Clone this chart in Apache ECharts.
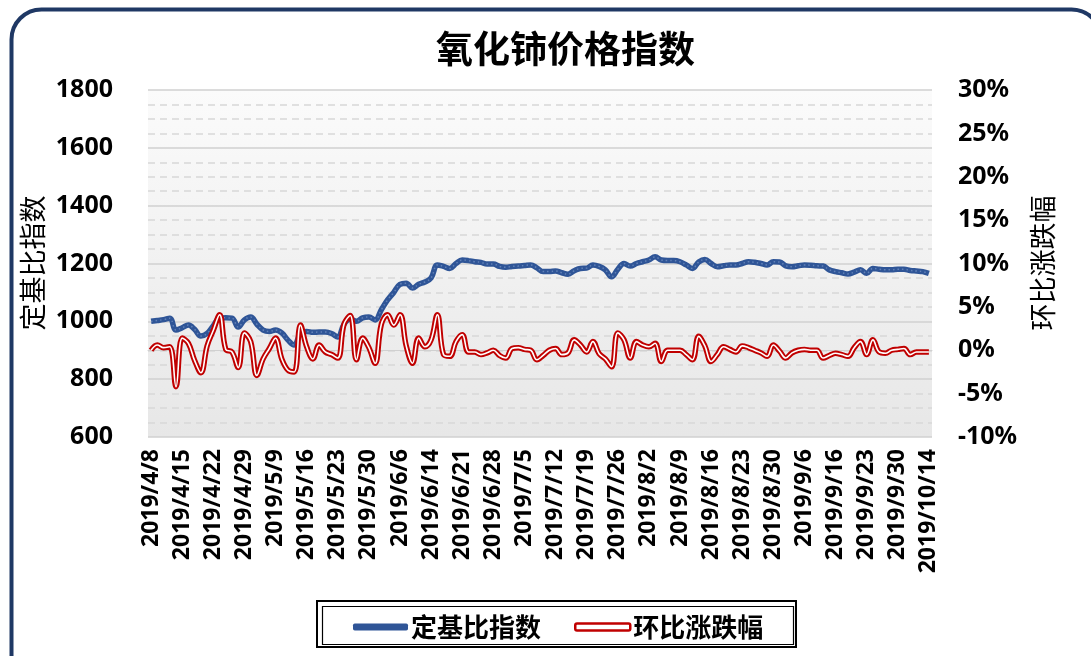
<!DOCTYPE html>
<html>
<head>
<meta charset="utf-8">
<script src="https://cdn.jsdelivr.net/npm/echarts@6/dist/echarts.min.js"></script>
<style>
html,body{margin:0;padding:0;background:#fff;}
#c{width:1091px;height:656px;}
</style>
</head>
<body>
<div id="c"></div>
<script>
const categories = [
'2019/4/8','2019/4/9','2019/4/10','2019/4/11','2019/4/12',
'2019/4/15','2019/4/16','2019/4/17','2019/4/18','2019/4/19',
'2019/4/22','2019/4/23','2019/4/24','2019/4/25','2019/4/26',
'2019/4/29','2019/4/30','2019/5/6','2019/5/7','2019/5/8',
'2019/5/9','2019/5/10','2019/5/13','2019/5/14','2019/5/15',
'2019/5/16','2019/5/17','2019/5/20','2019/5/21','2019/5/22',
'2019/5/23','2019/5/24','2019/5/27','2019/5/28','2019/5/29',
'2019/5/30','2019/5/31','2019/6/3','2019/6/4','2019/6/5',
'2019/6/6','2019/6/10','2019/6/11','2019/6/12','2019/6/13',
'2019/6/14','2019/6/17','2019/6/18','2019/6/19','2019/6/20',
'2019/6/21','2019/6/24','2019/6/25','2019/6/26','2019/6/27',
'2019/6/28','2019/7/1','2019/7/2','2019/7/3','2019/7/4',
'2019/7/5','2019/7/8','2019/7/9','2019/7/10','2019/7/11',
'2019/7/12','2019/7/15','2019/7/16','2019/7/17','2019/7/18',
'2019/7/19','2019/7/22','2019/7/23','2019/7/24','2019/7/25',
'2019/7/26','2019/7/29','2019/7/30','2019/7/31','2019/8/1',
'2019/8/2','2019/8/5','2019/8/6','2019/8/7','2019/8/8',
'2019/8/9','2019/8/12','2019/8/13','2019/8/14','2019/8/15',
'2019/8/16','2019/8/19','2019/8/20','2019/8/21','2019/8/22',
'2019/8/23','2019/8/26','2019/8/27','2019/8/28','2019/8/29',
'2019/8/30','2019/9/2','2019/9/3','2019/9/4','2019/9/5',
'2019/9/6','2019/9/9','2019/9/10','2019/9/11','2019/9/12',
'2019/9/16','2019/9/17','2019/9/18','2019/9/19','2019/9/20',
'2019/9/23','2019/9/24','2019/9/25','2019/9/26','2019/9/27',
'2019/9/30','2019/10/8','2019/10/9','2019/10/10','2019/10/11',
'2019/10/14'
];

const indexValues = [
1000,1003,1006,1011,970, 978,987,972,949,958,
985,1011,1012,1011,980, 1005,1015,990,970,965,
970,960,935,918,958, 965,962,963,963,958,
946,990,1008,1000,1012, 1015,1005,1040,1074,1100,
1128,1132,1115,1128,1136, 1150,1195,1190,1183,1200,
1212,1210,1206,1204,1198, 1198,1190,1187,1190,1191,
1193,1195,1185,1172,1172, 1174,1168,1163,1175,1183,
1184,1195,1190,1178,1154, 1180,1200,1191,1200,1206,
1212,1223,1212,1210,1210, 1206,1195,1183,1205,1214,
1200,1189,1192,1195,1195, 1200,1206,1204,1200,1195,
1206,1205,1192,1189,1192, 1195,1194,1192,1191,1178,
1172,1168,1164,1170,1178, 1166,1183,1180,1178,1178,
1180,1180,1176,1174,1172, 1166
];

const changeValues = [
0.0,0.6,0.3,0.4,-4.2, 1.4,0.8,-1.2,-2.6,0.5,
2.3,4.1,0.1,-0.2,-2.0, 2.0,1.0,-2.9,-1.0,0.2,
1.4,-1.0,-2.3,-2.5,2.9, 0.4,-1.0,0.6,-0.2,-0.5,
-0.9,3.0,4.0,-1.1,1.4, 0.3,-1.5,3.0,4.1,2.9,
4.1,0.5,-1.5,1.4,0.4, 1.2,4.1,-0.5,-0.7,1.0,
1.8,-0.2,-0.2,-0.5,-0.3, 0.0,-0.6,-0.9,0.2,0.3,
0.1,0.0,-1.1,-0.6,0.0, 0.2,-0.5,-0.3,1.2,0.6,
-0.2,1.0,-0.4,-1.0,-1.9, 2.0,1.2,-0.9,1.0,0.6,
0.4,0.8,-1.3,0.0,0.0, 0.0,-0.5,-1.1,1.6,0.5,
-1.3,-0.5,0.4,0.1,-0.2, 0.5,0.3,0.0,-0.3,-0.7,
0.6,-0.1,-0.9,-0.3,0.0, 0.1,0.0,0.0,-0.9,-0.6,
-0.35,-0.5,-0.7,0.3,1.0, -0.5,1.2,-0.2,-0.35,0.0,
0.1,0.2,-0.5,-0.2,-0.2, -0.2
];

const leftTicks = {min: 600, max: 1800, interval: 200};
const rightTicks = {min: -10, max: 30, interval: 5};

const NUM = "'Noto Sans', 'Noto Sans CJK SC', sans-serif";
const CJK = "'Noto Sans CJK SC', sans-serif";
const BLUE = '#2F5597';
const RED = '#C00000';

const chart = echarts.init(document.getElementById('c'), null, {renderer: 'canvas'});
chart.setOption({
  animation: false,
  backgroundColor: '#fff',
  title: {
    text: '氧化铈价格指数',
    left: 431, top: 25,
    textStyle: {fontFamily: CJK, fontSize: 37, fontWeight: 'bold', color: '#000'}
  },
  grid: {
    left: 148, right: 159, top: 90, bottom: 219,
    show: true, borderWidth: 0,
    backgroundColor: {
      type: 'linear', x: 0, y: 0, x2: 0, y2: 1,
      colorStops: [{offset: 0, color: '#fbfbfb'}, {offset: 1, color: '#e7e7e7'}]
    }
  },
  legend: {
    left: 348, top: 609,
    itemGap: 33, itemWidth: 55, itemHeight: 7,
    textStyle: {fontFamily: CJK, fontSize: 26, fontWeight: 'bold', color: '#000', padding: [0,0,0,-2]},
    data: [
      {name: '定基比指数', icon: 'roundRect', itemStyle: {color: BLUE}},
      {name: '环比涨跌幅', icon: 'roundRect', itemStyle: {color: '#fff', borderColor: RED, borderWidth: 2.5}}
    ]
  },
  xAxis: {
    type: 'category',
    data: categories,
    boundaryGap: true,
    axisLine: {show: true, lineStyle: {color: '#d0d0d0'}},
    axisTick: {show: false},
    axisLabel: {
      interval: 4, rotate: 90, margin: 12,
      fontFamily: NUM, fontSize: 23, fontWeight: 'bold', color: '#000'
    }
  },
  yAxis: [
    {
      type: 'value', min: leftTicks.min, max: leftTicks.max, interval: leftTicks.interval,
      axisLine: {show: false}, axisTick: {show: false},
      axisLabel: {margin: 35, formatter: function (v) { return String(v); }, fontFamily: NUM, fontSize: 25, fontWeight: 'bold', color: '#000'},
      splitLine: {show: true, lineStyle: {color: '#d0d0d0', width: 1.5}},
      minorTick: {show: false, splitNumber: 4},
      minorSplitLine: {show: true, lineStyle: {color: '#d8d8d8', width: 1.5, type: [7, 5]}}
    },
    {
      type: 'value', min: rightTicks.min, max: rightTicks.max, interval: rightTicks.interval,
      axisLine: {show: false}, axisTick: {show: false},
      splitLine: {show: false},
      axisLabel: {margin: 26, formatter: '{value}%', fontFamily: NUM, fontSize: 25, fontWeight: 'bold', color: '#000'}
    }
  ],
  graphic: [
    {type: 'rect', left: 9, top: 7, shape: {width: 1090, height: 680, r: 30}, style: {fill: 'none', stroke: '#1F3864', lineWidth: 4}, silent: true},
    {type: 'rect', left: 316, top: 600, shape: {width: 479, height: 46}, style: {fill: '#fff', stroke: '#000', lineWidth: 2}, z: 0},
    {type: 'rect', left: 320, top: 604, shape: {width: 471, height: 38}, style: {fill: 'none', stroke: '#000', lineWidth: 1.2}, z: 0},
    {type: 'text', x: 33, y: 263, rotation: Math.PI / 2, style: {text: '定基比指数', fontFamily: CJK, fontSize: 27, fill: '#000', textAlign: 'center', textVerticalAlign: 'middle'}},
    {type: 'text', x: 1043, y: 263, rotation: Math.PI / 2, style: {text: '环比涨跌幅', fontFamily: CJK, fontSize: 27, fill: '#000', textAlign: 'center', textVerticalAlign: 'middle'}}
  ],
  series: [
    {
      name: '定基比指数', type: 'line', yAxisIndex: 0, data: indexValues,
      smooth: 0.4, showSymbol: false, symbol: 'none',
      lineStyle: {color: BLUE, width: 5.5}, itemStyle: {color: BLUE}, z: 2
    },
    {
      name: '_dots', type: 'line', yAxisIndex: 0, data: indexValues,
      smooth: 0.4, showSymbol: false, symbol: 'none', silent: true,
      lineStyle: {color: 'rgba(160,185,225,0.45)', width: 1.5, type: [1.5, 3]}, z: 3
    },
    {
      name: '环比涨跌幅', type: 'line', yAxisIndex: 1, data: changeValues,
      smooth: 0.4, showSymbol: false, symbol: 'none',
      lineStyle: {color: RED, width: 5.5}, itemStyle: {color: RED}, z: 4
    },
    {
      name: '_inner', type: 'line', yAxisIndex: 1, data: changeValues,
      smooth: 0.4, showSymbol: false, symbol: 'none', silent: true,
      lineStyle: {color: '#ffffff', width: 1.6}, z: 5
    }
  ]
});
</script>
</body>
</html>
